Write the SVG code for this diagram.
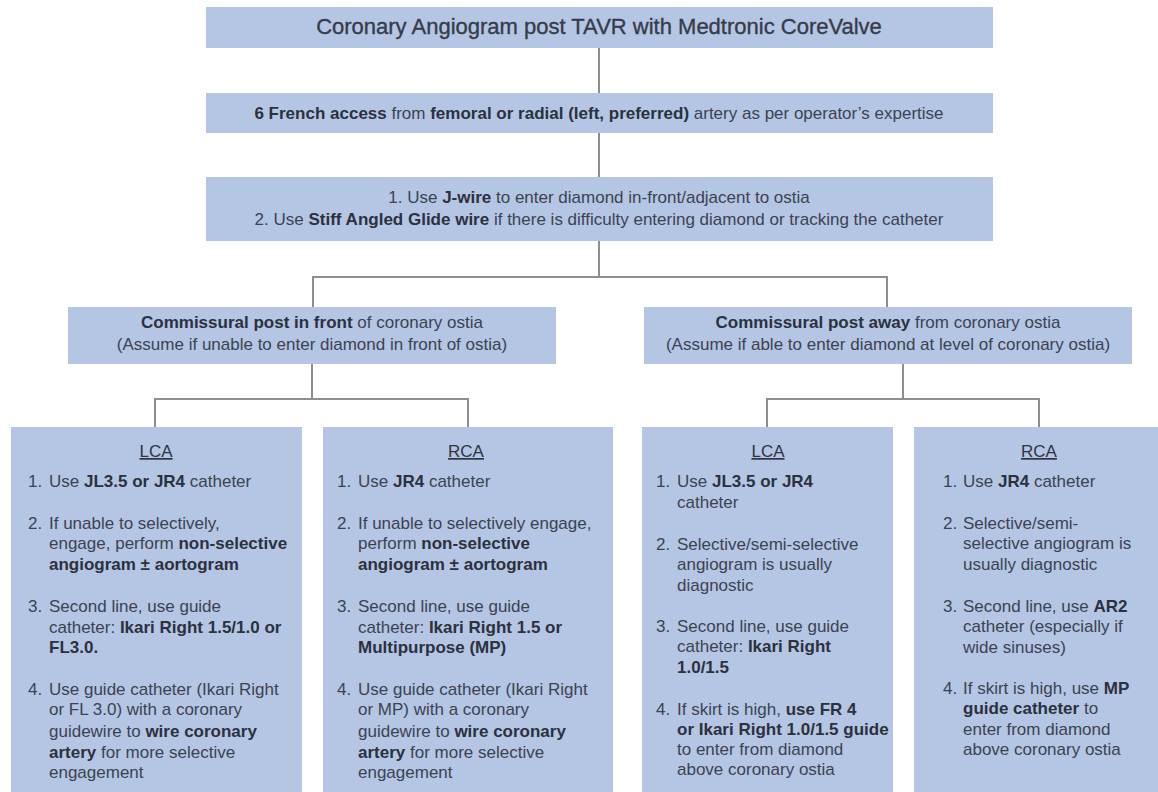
<svg xmlns="http://www.w3.org/2000/svg" width="1158" height="792" viewBox="0 0 1158 792">
<style>
text{font-family:"Liberation Sans",Arial,sans-serif;font-size:17px;fill:#3d4250}
.c{text-anchor:middle}
.b{font-weight:bold;fill:#2c313c}
.t{font-size:22px;fill:#363c49;stroke:#363c49;stroke-width:0.35}
.h{text-decoration:underline;fill:#2f3440}
.box{fill:#b4c6e4}
.cn{fill:none;stroke:#8e8e8e;stroke-width:2}
</style>
<rect width="1158" height="792" fill="#ffffff"/>
<g id="connectors" class="cn">
<path d="M599 48V93M599 133V177M599 241V277"/>
<path d="M313 307V277H887V307"/>
<path d="M312 364V399M155 427V399H468V427"/>
<path d="M903 364V399M767 427V399H1039V427"/>
</g>
<g id="n-title">
<rect class="box" x="206" y="7" width="787" height="41"/>
<text class="c t" x="599" y="34">Coronary Angiogram post TAVR with Medtronic CoreValve</text>
</g>
<g id="n-access">
<rect class="box" x="206" y="93" width="787" height="40"/>
<text class="c" x="599" y="119"><tspan class="b">6 French access</tspan> from <tspan class="b">femoral or radial (left, preferred)</tspan> artery as per operator’s expertise</text>
</g>
<g id="n-wire">
<rect class="box" x="206" y="177" width="787" height="64"/>
<text class="c" x="599" y="203">1. Use <tspan class="b">J-wire</tspan> to enter diamond in-front/adjacent to ostia</text>
<text class="c" x="599" y="225">2. Use <tspan class="b">Stiff Angled Glide wire</tspan> if there is difficulty entering diamond or tracking the catheter</text>
</g>
<g id="n-front">
<rect class="box" x="68" y="307" width="488" height="57"/>
<text class="c" x="312" y="328"><tspan class="b">Commissural post in front</tspan> of coronary ostia</text>
<text class="c" x="312" y="350">(Assume if unable to enter diamond in front of ostia)</text>
</g>
<g id="n-away">
<rect class="box" x="644" y="307" width="488" height="57"/>
<text class="c" x="888" y="328"><tspan class="b">Commissural post away</tspan> from coronary ostia</text>
<text class="c" x="888" y="350">(Assume if able to enter diamond at level of coronary ostia)</text>
</g>
<g id="n-front-lca">
<rect class="box" x="11" y="427" width="291" height="370"/>
<text class="c h" x="156" y="457">LCA</text>
<text x="28" y="487">1.</text><text x="49" y="487">Use <tspan class="b">JL3.5 or JR4</tspan> catheter</text>
<text x="28" y="529">2.</text><text x="49" y="529">If unable to selectively,</text>
<text x="49" y="549">engage, perform <tspan class="b">non-selective</tspan></text>
<text x="49" y="570"><tspan class="b">angiogram ± aortogram</tspan></text>
<text x="28" y="612">3.</text><text x="49" y="612">Second line, use guide</text>
<text x="49" y="633">catheter: <tspan class="b">Ikari Right 1.5/1.0 or</tspan></text>
<text x="49" y="653"><tspan class="b">FL3.0.</tspan></text>
<text x="28" y="695">4.</text><text x="49" y="695">Use guide catheter (Ikari Right</text>
<text x="49" y="715">or FL 3.0) with a coronary</text>
<text x="49" y="737">guidewire to <tspan class="b">wire coronary</tspan></text>
<text x="49" y="758"><tspan class="b">artery</tspan> for more selective</text>
<text x="49" y="778">engagement</text>
</g>
<g id="n-front-rca">
<rect class="box" x="323" y="427" width="290" height="370"/>
<text class="c h" x="466" y="457">RCA</text>
<text x="337" y="487">1.</text><text x="358" y="487">Use <tspan class="b">JR4</tspan> catheter</text>
<text x="337" y="529">2.</text><text x="358" y="529">If unable to selectively engage,</text>
<text x="358" y="549">perform <tspan class="b">non-selective</tspan></text>
<text x="358" y="570"><tspan class="b">angiogram ± aortogram</tspan></text>
<text x="337" y="612">3.</text><text x="358" y="612">Second line, use guide</text>
<text x="358" y="633">catheter: <tspan class="b">Ikari Right 1.5 or</tspan></text>
<text x="358" y="653"><tspan class="b">Multipurpose (MP)</tspan></text>
<text x="337" y="695">4.</text><text x="358" y="695">Use guide catheter (Ikari Right</text>
<text x="358" y="715">or MP) with a coronary</text>
<text x="358" y="737">guidewire to <tspan class="b">wire coronary</tspan></text>
<text x="358" y="758"><tspan class="b">artery</tspan> for more selective</text>
<text x="358" y="778">engagement</text>
</g>
<g id="n-away-lca">
<rect class="box" x="642" y="427" width="251" height="370"/>
<text class="c h" x="768" y="457">LCA</text>
<text x="656" y="487">1.</text><text x="677" y="487">Use <tspan class="b">JL3.5 or JR4</tspan></text>
<text x="677" y="508">catheter</text>
<text x="656" y="550">2.</text><text x="677" y="550">Selective/semi-selective</text>
<text x="677" y="570">angiogram is usually</text>
<text x="677" y="591">diagnostic</text>
<text x="656" y="632">3.</text><text x="677" y="632">Second line, use guide</text>
<text x="677" y="652">catheter: <tspan class="b">Ikari Right</tspan></text>
<text x="677" y="673"><tspan class="b">1.0/1.5</tspan></text>
<text x="656" y="715">4.</text><text x="677" y="715">If skirt is high, <tspan class="b">use FR 4</tspan></text>
<text x="677" y="735"><tspan class="b">or Ikari Right 1.0/1.5 guide</tspan></text>
<text x="677" y="755">to enter from diamond</text>
<text x="677" y="775">above coronary ostia</text>
</g>
<g id="n-away-rca">
<rect class="box" x="914" y="427" width="250" height="370"/>
<text class="c h" x="1039" y="457">RCA</text>
<text x="943" y="487">1.</text><text x="963" y="487">Use <tspan class="b">JR4</tspan> catheter</text>
<text x="943" y="529">2.</text><text x="963" y="529">Selective/semi-</text>
<text x="963" y="549">selective angiogram is</text>
<text x="963" y="570">usually diagnostic</text>
<text x="943" y="612">3.</text><text x="963" y="612">Second line, use <tspan class="b">AR2</tspan></text>
<text x="963" y="632">catheter (especially if</text>
<text x="963" y="653">wide sinuses)</text>
<text x="943" y="694">4.</text><text x="963" y="694">If skirt is high, use <tspan class="b">MP</tspan></text>
<text x="963" y="714"><tspan class="b">guide catheter</tspan> to</text>
<text x="963" y="735">enter from diamond</text>
<text x="963" y="755">above coronary ostia</text>
</g>
</svg>
